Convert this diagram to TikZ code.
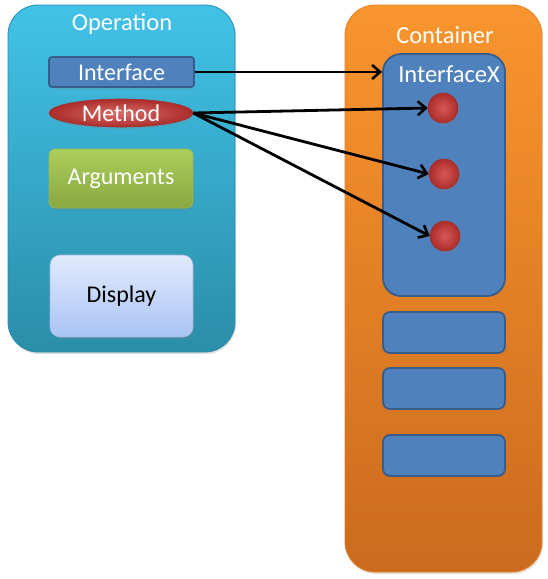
\documentclass[tikz,border=0pt]{standalone}
\usepackage{fontspec}
\setmainfont{Carlito}
\usetikzlibrary{arrows.meta,shapes.geometric,shadows}
\definecolor{opTop}{RGB}{66,194,232}
\definecolor{opBot}{RGB}{42,142,168}
\definecolor{opLine}{RGB}{40,140,170}
\definecolor{coTop}{RGB}{249,149,46}
\definecolor{coBot}{RGB}{204,106,30}
\definecolor{coLine}{RGB}{230,130,40}
\definecolor{ifBlue}{RGB}{79,129,189}
\definecolor{ifLine}{RGB}{56,93,138}
\definecolor{mRed}{RGB}{210,70,66}
\definecolor{mRedD}{RGB}{170,45,42}
\definecolor{mLine}{RGB}{160,50,48}
\definecolor{gTop}{RGB}{172,206,90}
\definecolor{gBot}{RGB}{136,168,66}
\definecolor{gLine}{RGB}{150,185,80}
\definecolor{dTop}{RGB}{225,234,251}
\definecolor{dBot}{RGB}{170,196,245}
\definecolor{dLine}{RGB}{160,182,220}
\tikzset{
  softshadow/.style={drop shadow={opacity=0.25,shadow xshift=1pt,shadow yshift=-2pt}},
  bigbox/.style={draw, line width=0.8pt, rounded corners=30pt, softshadow},
  bluebox/.style={draw=ifLine, fill=ifBlue, line width=1.8pt, text=white},
  ttl/.style={text=white, font=\fontsize{24.5}{28}\selectfont},
  lbl/.style={font=\fontsize{24}{28}\selectfont},
  dot/.style={circle, minimum size=30pt, inner sep=0pt, draw=mLine, line width=0.6pt,
     inner color=mRed!90!white, outer color=mRedD, softshadow},
  conn/.style={-{Straight Barb[length=8pt,width=14pt,line width=2.6pt]}, line width=2.8pt, black},
}
\begin{document}
\begin{tikzpicture}[x=1pt,y=-1pt]
\useasboundingbox (0,0) rectangle (547,579);
% Operation
\node[bigbox, draw=opLine, top color=opTop, bottom color=opBot,
      minimum width=227pt, minimum height=347pt] (op) at (121.5,178.5) {};
\node[ttl] (opt) at (122,24) {Operation};
\node[bluebox, rounded corners=3pt, minimum width=145pt, minimum height=30pt, inner sep=0pt, lbl, softshadow]
   (iface) at (121.5,72) {Interface};
\node[ellipse, draw=mLine, line width=0.6pt, inner color=mRed!80!white, outer color=mRedD,
      minimum width=144pt, minimum height=28pt, inner sep=0pt, text=white, lbl, softshadow]
   (meth) at (121,113) {Method};
\node[draw=gLine, line width=0.6pt, top color=gTop, bottom color=gBot, rounded corners=6pt,
      minimum width=144pt, minimum height=59pt, text=white, lbl, softshadow]
   (args) at (121,178.5) {Arguments};
\node[draw=dLine, line width=0.6pt, top color=dTop, bottom color=dBot, rounded corners=10pt,
      minimum width=143pt, minimum height=82pt, text=black, lbl, softshadow]
   (disp) at (121.5,296) {Display};
% Container
\node[bigbox, draw=coLine, top color=coTop, bottom color=coBot,
      minimum width=197pt, minimum height=567pt] (cont) at (443.5,288.5) {};
\node[ttl] (cot) at (445,35) {Container};
\node[bluebox, rounded corners=18pt, minimum width=122pt, minimum height=242pt] (ifx) at (444,175) {};
\node[ttl] (ifxt) at (449,74) {InterfaceX};
\node[dot] (c1) at (443,108) {};
\node[dot] (c2) at (444,174) {};
\node[dot] (c3) at (445,236) {};
\node[bluebox, rounded corners=7pt, minimum width=122pt, minimum height=41pt] (b1) at (444,332.5) {};
\node[bluebox, rounded corners=7pt, minimum width=122pt, minimum height=41pt] (b2) at (444,388.5) {};
\node[bluebox, rounded corners=7pt, minimum width=122pt, minimum height=41pt] (b3) at (444,455.5) {};
% connectors
\draw[conn] (iface.east) -- (iface.east -| ifx.west);
\draw[conn] (meth.east) -- (c1.west);
\draw[conn] (meth.east) -- (c2.west);
\draw[conn] (meth.east) -- (c3.west);
\end{tikzpicture}
\end{document}
